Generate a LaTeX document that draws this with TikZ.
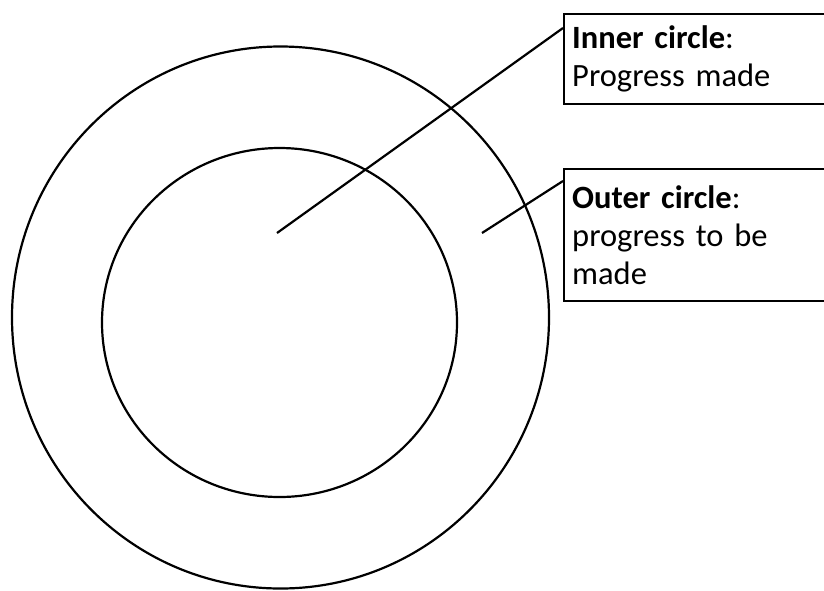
\documentclass[tikz,border=0pt]{standalone}
\usepackage{fontspec}
\setmainfont{Carlito}
\usetikzlibrary{calc}
\tikzset{
  ring/.style={draw=black, line width=2.2pt},
  labelbox/.style={draw=black, line width=2.4pt, rectangle, anchor=north west, align=left,
    text width=270pt, inner xsep=8pt, inner ysep=0pt, font=\fontsize{32.5}{38}\selectfont},
  pointer/.style={draw=black, line width=2.2pt}
}
\begin{document}
\begin{tikzpicture}[x=1pt,y=-1pt]
\useasboundingbox (0,0) rectangle (824,590);
\clip (0,0) rectangle (824,590);
\fill[white] (0,0) rectangle (824,590);
\draw[ring] (280.5,317.5) ellipse [x radius=268.5, y radius=271];
\draw[ring] (279.5,322.5) ellipse [x radius=177.5, y radius=174.5];
\node[labelbox, minimum height=90pt] (ib) at (563,13) {\textbf{Inner circle}:\\Progress made};
\node[labelbox, minimum height=132pt] (ob) at (563,168) {\textbf{Outer circle}:\\progress to be\\made};
\coordinate (ip) at (277,233);
\coordinate (op) at (482,233);
\draw[pointer] (ip) -- ($(ib.north west)+(0,15)$);
\draw[pointer] (op) -- ($(ob.north west)+(0,13)$);
\end{tikzpicture}
\end{document}
